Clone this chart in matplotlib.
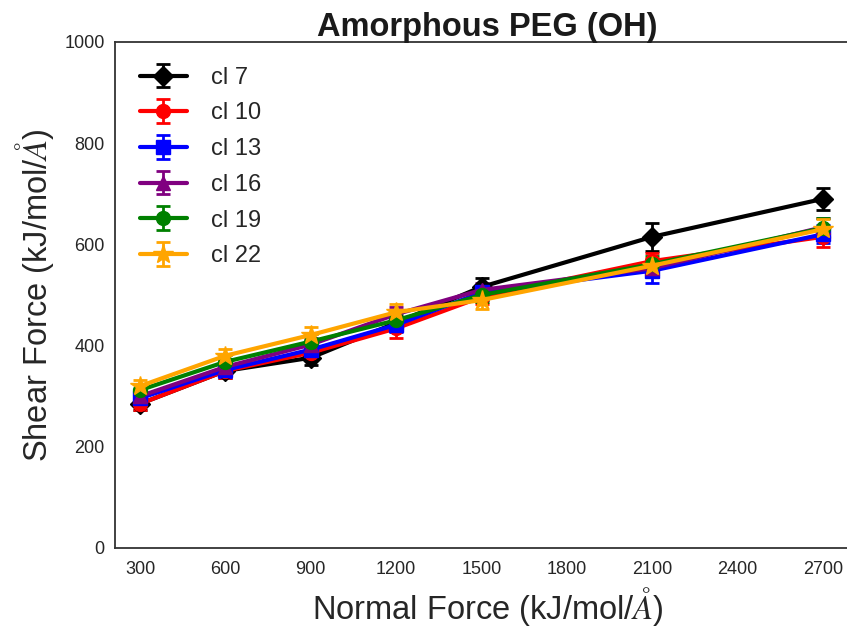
import numpy as np
import matplotlib
matplotlib.use('Agg')
import matplotlib.pyplot as plt
import seaborn as sns

# Datos
normal_force = [300, 600, 900, 1200, 1500, 2100, 2700]
etiquetas = ['cl 7', 'cl 10', 'cl 13', 'cl 16', 'cl 19', 'cl 22']
colores = ['black', 'red', 'blue', 'purple', 'green', 'orange']
marcadores = ['D', 'o', 's', '^', 'o', '*']

cl7 = [285, 350, 376, 445, 516, 615, 690]
cl10 = [285, 350, 386, 434, 496, 567, 615]
cl13 = [296, 352, 392, 441, 505, 548, 620]
cl16 = [300, 358, 402, 462, 510, 553, 634]
cl19 = [312, 368, 408, 450, 500, 561, 632]
cl22 = [320, 380, 421, 466, 490, 558, 630]

err7 = [12, 14, 15, 14, 18, 28, 22]
err10 = [12, 14, 14, 18, 14, 16, 20]
err13 = [12, 14, 14, 14, 14, 24, 18]
err16 = [12, 14, 14, 14, 14, 16, 18]
err19 = [12, 14, 14, 14, 14, 16, 20]
err22 = [12, 14, 16, 16, 18, 16, 20]

series = [cl7, cl10, cl13, cl16, cl19, cl22]
errores = [err7, err10, err13, err16, err19, err22]

sns.set_style('white')
plt.rcParams['font.family'] = ['Liberation Sans', 'DejaVu Sans']
plt.rcParams['mathtext.fontset'] = 'stix'

fig = plt.figure(figsize=(8.47, 6.27), dpi=100)
ax = fig.add_axes([115 / 847, 79 / 627, 745 / 847, 506 / 627])

for y, e, lab, c, m in zip(series, errores, etiquetas, colores, marcadores):
    ms = 15 if m == '*' else 10
    ax.errorbar(normal_force, y, yerr=e, label=lab, color=c, marker=m,
                markersize=ms, linewidth=3, elinewidth=2, capsize=5,
                capthick=2)

ax.set_xlim(212, 2830)
ax.set_ylim(0, 1000)
ax.set_xticks(np.arange(300, 2701, 300))
ax.set_yticks(np.arange(0, 1001, 200))
ax.tick_params(labelsize=13, colors='0.15')
ax.tick_params(axis='x', pad=6)
ax.tick_params(axis='y', pad=4)
for s in ax.spines.values():
    s.set_color('0.2')
    s.set_linewidth(1.3)
ax.spines['right'].set_visible(False)

ax.set_xlabel(r'Normal Force (kJ/mol/$\AA$)', fontsize=23.5, color='0.15',
              labelpad=5)
ax.set_ylabel(r'Shear Force (kJ/mol/$\AA$)', fontsize=23.5, color='0.15',
              labelpad=6)
ax.set_title('Amorphous PEG (OH)', fontsize=23.5, fontweight='bold',
             color='0.1', pad=4)
ax.legend(loc='upper left', fontsize=17, frameon=False, handlelength=2.0,
          labelspacing=0.58, borderaxespad=0.65, handletextpad=1.0)

fig.savefig('out.png', dpi=100)
